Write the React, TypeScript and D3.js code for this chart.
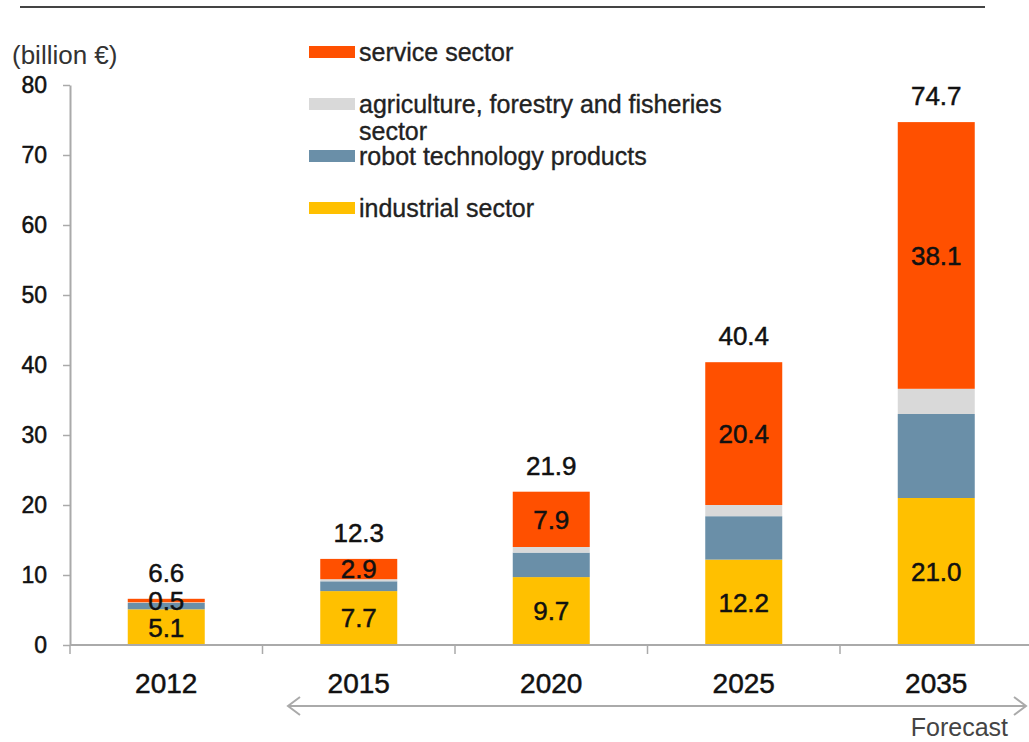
import { FC, useEffect, useRef } from 'react';
import * as d3 from 'd3';

const years = ['2012', '2015', '2020', '2025', '2035'];
const industrial = [5.1, 7.7, 9.7, 12.2, 21.0];
const robot = [0.9, 1.4, 3.5, 6.2, 12.0];
const agriculture = [0.1, 0.3, 0.8, 1.6, 3.6];
const service = [0.5, 2.9, 7.9, 20.4, 38.1];
const totals = [6.6, 12.3, 21.9, 40.4, 74.7];
const yTicks = [0, 10, 20, 30, 40, 50, 60, 70, 80];

const seriesKeys = ['industrial', 'robot', 'agriculture', 'service'];
const colors: Record<string, string> = {
  industrial: '#FFC000',
  robot: '#6A8FA8',
  agriculture: '#D9D9D9',
  service: '#FF5000',
};

const legendItems = [
  { key: 'service', lines: ['service sector'], y: 52 },
  { key: 'agriculture', lines: ['agriculture, forestry and fisheries', 'sector'], y: 104 },
  { key: 'robot', lines: ['robot technology products'], y: 156 },
  { key: 'industrial', lines: ['industrial sector'], y: 208 },
];

const font = '"Liberation Sans", Arial, Helvetica, sans-serif';

const App: FC = () => {
  const chartRef = useRef<SVGSVGElement>(null);

  useEffect(() => {
    const svg = d3.select(chartRef.current);
    svg.selectAll('*').remove();

    const rows = years.map((year, i) => ({
      year,
      industrial: industrial[i],
      robot: robot[i],
      agriculture: agriculture[i],
      service: service[i],
      total: totals[i],
    }));

    const x = d3.scaleBand().domain(years).range([70, 1032.5]).paddingInner(0).paddingOuter(0);
    const y = d3.scaleLinear().domain([0, 80]).range([645, 85]);
    const barW = 77;

    // top rule
    svg.append('line').attr('x1', 20).attr('x2', 985).attr('y1', 7).attr('y2', 7)
      .attr('stroke', '#444').attr('stroke-width', 2);

    // unit label
    svg.append('text').attr('x', 12).attr('y', 64).text('(billion €)')
      .attr('font-size', 26).attr('fill', '#333').attr('font-family', font);

    // y axis
    const yAxis = svg.append('g').attr('transform', 'translate(70,0)')
      .call(d3.axisLeft(y).tickValues(yTicks).tickSize(7).tickSizeOuter(0));
    yAxis.select('.domain').attr('stroke', '#aaa').attr('stroke-width', 2);
    yAxis.selectAll('.tick line').attr('stroke', '#aaa').attr('stroke-width', 1.5);
    yAxis.selectAll('.tick text').attr('font-size', 23).attr('fill', '#111')
      .attr('stroke', '#111').attr('stroke-width', 0.5)
      .attr('font-family', font).attr('x', -23);

    // stacked bars
    const stack = d3.stack<any>().keys(seriesKeys)(rows);
    svg.append('g').selectAll('g').data(stack).enter().append('g')
      .attr('fill', (s) => colors[s.key])
      .selectAll('rect').data((s) => s).enter().append('rect')
      .attr('x', (d) => x(d.data.year)! + (x.bandwidth() - barW) / 2)
      .attr('y', (d) => y(d[1]))
      .attr('width', barW)
      .attr('height', (d) => y(d[0]) - y(d[1]));

    // x axis
    svg.append('line').attr('x1', 70).attr('x2', 1029).attr('y1', 645).attr('y2', 645)
      .attr('stroke', '#aaa').attr('stroke-width', 2);
    svg.append('g').selectAll('line').data(years).enter().append('line')
      .attr('x1', (d) => x(d)!).attr('x2', (d) => x(d)!)
      .attr('y1', 645).attr('y2', 654).attr('stroke', '#aaa').attr('stroke-width', 1.5);
    svg.append('g').selectAll('text').data(years).enter().append('text')
      .attr('x', (d) => x(d)! + x.bandwidth() / 2).attr('y', 693)
      .attr('text-anchor', 'middle').attr('font-size', 28).attr('fill', '#111')
      .attr('stroke', '#111').attr('stroke-width', 0.5)
      .attr('font-family', font).text((d) => d);

    const cx = (d: any) => x(d.year)! + x.bandwidth() / 2;
    const labels = svg.append('g').attr('font-family', font).attr('font-size', 26)
      .attr('fill', '#111').attr('stroke', '#111').attr('stroke-width', 0.5)
      .attr('text-anchor', 'middle');

    // industrial labels
    labels.selectAll('.ind').data(rows).enter().append('text')
      .attr('x', cx).attr('y', (d) => y(d.industrial / 2)).attr('dy', '0.36em')
      .text((d) => d.industrial.toFixed(1));
    // service labels
    labels.selectAll('.srv').data(rows).enter().append('text')
      .attr('x', cx)
      .attr('y', (d) => y(d.industrial + d.robot + d.agriculture + d.service / 2))
      .attr('dy', '0.36em')
      .text((d) => d.service.toFixed(1));
    // totals
    labels.selectAll('.tot').data(rows).enter().append('text')
      .attr('x', cx).attr('y', (d) => y(d.total) - 17)
      .text((d) => d.total.toFixed(1));

    // legend
    const lg = svg.append('g').attr('font-family', font).attr('font-size', 25)
      .attr('fill', '#222').attr('stroke', '#222').attr('stroke-width', 0.35);
    legendItems.forEach((item) => {
      lg.append('rect').attr('x', 309).attr('y', item.y - 6).attr('width', 46).attr('height', 12)
        .attr('fill', colors[item.key]).attr('stroke', 'none');
      item.lines.forEach((line, j) => {
        lg.append('text').attr('x', 359).attr('y', item.y + j * 27).attr('dy', '0.36em').text(line);
      });
    });

    // forecast arrow
    const ay = 706;
    svg.append('line').attr('x1', 288).attr('x2', 1026).attr('y1', ay).attr('y2', ay)
      .attr('stroke', '#aaa').attr('stroke-width', 2);
    svg.append('path').attr('d', `M300,${ay - 9} L288,${ay} L300,${ay + 9}`)
      .attr('fill', 'none').attr('stroke', '#aaa').attr('stroke-width', 2);
    svg.append('path').attr('d', `M1014,${ay - 9} L1026,${ay} L1014,${ay + 9}`)
      .attr('fill', 'none').attr('stroke', '#aaa').attr('stroke-width', 2);
    svg.append('text').attr('x', 1008).attr('y', 736).attr('text-anchor', 'end')
      .attr('font-size', 25).attr('fill', '#444').attr('font-family', font).text('Forecast');
  }, []);

  return (
    <svg
      ref={chartRef}
      width={1029}
      height={742}
      style={{ position: 'absolute', left: 0, top: 0, background: '#fff' }}
    />
  );
};

export default App;
